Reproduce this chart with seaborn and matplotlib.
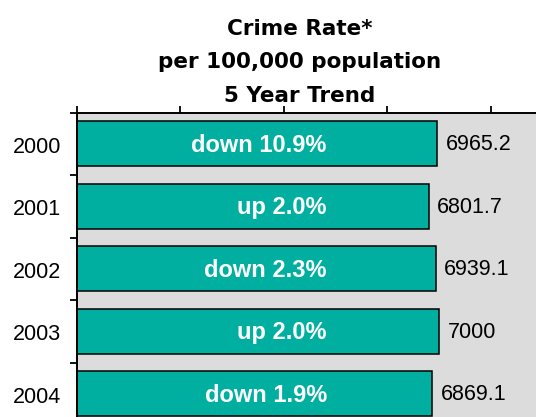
import seaborn as sns
import matplotlib.pyplot as plt
import pandas as pd
import numpy as np
from matplotlib.transforms import ScaledTranslation

# Data
years = ['2000', '2001', '2002', '2003', '2004']
crime_rate = [6965.2, 6801.7, 6939.1, 7000, 6869.1]
rate_labels = ['6965.2', '6801.7', '6939.1', '7000', '6869.1']
trend_labels = ['down 10.9%', 'up 2.0%', 'down 2.3%', 'up 2.0%', 'down 1.9%']
title_lines = ['Crime Rate*', 'per 100,000 population', '5 Year Trend']
x_ticks = [0, 2000, 4000, 6000, 8000]

df = pd.DataFrame({'year': years, 'rate': crime_rate})

# Style
sns.set_style('white')
plt.rcParams['font.family'] = ['Liberation Sans', 'DejaVu Sans']
plt.rcParams['text.color'] = 'black'
plt.rcParams['xtick.color'] = 'black'
plt.rcParams['ytick.color'] = 'black'

W, H = 536, 417
fig = plt.figure(figsize=(W / 100, H / 100), dpi=100)
# axes run past the bottom and right edge of the picture, like the original crop
ax = fig.add_axes([76.7 / W, (H - 425) / H, 466 / W, 312.5 / H])
ax.set_facecolor('#dcdcdc')

sns.barplot(data=df, x='rate', y='year', orient='h', width=0.72,
            color='#00afa0', saturation=1, edgecolor='black',
            linewidth=1.1, ax=ax)

ax.set_xlim(0, 9000)
ax.set_ylim(len(years) - 0.5, -0.5)
ax.set_xlabel('')
ax.set_ylabel('')

# Top axis with ticks only
ax.xaxis.tick_top()
ax.set_xticks(x_ticks)
ax.tick_params(axis='x', top=True, bottom=False, direction='out', length=5,
               width=1.3, color='black', labeltop=False, labelbottom=False)

# Year labels at bar centres, tick marks between bars
ax.set_yticks(np.arange(-0.5, len(years)), minor=True)
ax.tick_params(axis='y', which='major', left=True, length=0, pad=11,
               labelsize=15.5, labelcolor='black')
ax.tick_params(axis='y', which='minor', left=True, direction='out',
               length=5, width=1.3, color='black')
for lab in ax.get_yticklabels():
    lab.set_transform(lab.get_transform() +
                      ScaledTranslation(0, -0.6 / 72, fig.dpi_scale_trans))

for side in ['right', 'bottom']:
    ax.spines[side].set_visible(False)
for side in ['top', 'left']:
    ax.spines[side].set_linewidth(1.4)
    ax.spines[side].set_color('black')

# Value labels next to bars
for i, (v, s) in enumerate(zip(crime_rate, rate_labels)):
    ax.annotate(s, (v, i), xytext=(6, 1.2), textcoords='offset points',
                ha='left', va='center_baseline', fontsize=15.5,
                color='black')

# Trend labels inside bars
trend_label_x = 4830
for i, t in enumerate(trend_labels):
    ax.annotate(t, (trend_label_x, i), xytext=(0, 0.8),
                textcoords='offset points', ha='right',
                va='center_baseline', color='white', fontweight='bold',
                fontsize=17)

# Title, three lines
for k, line in enumerate(title_lines):
    fig.text(300 / W, 1 - (35 + 33.3 * k) / H, line, ha='center',
             va='baseline', fontsize=15.5, fontweight='bold',
             color='black', family=['DejaVu Sans'])

fig.savefig('out.png', dpi=100)
